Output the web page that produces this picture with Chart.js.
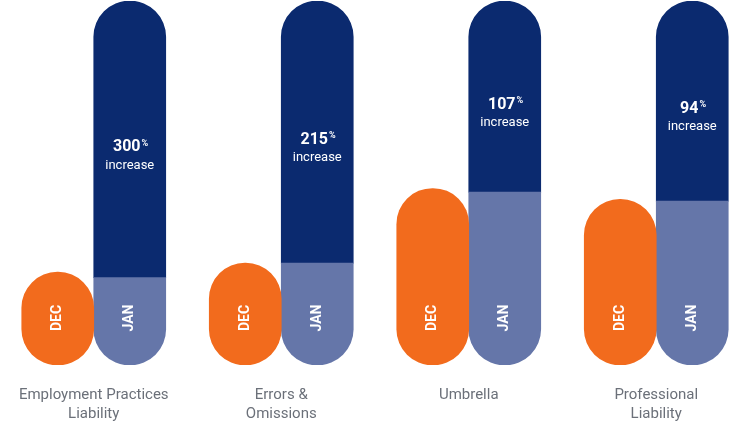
<!DOCTYPE html>
<html><head><meta charset="utf-8">
<script src="https://cdn.jsdelivr.net/npm/chart.js@4"></script>
<style>html,body{margin:0;padding:0;background:#fff}#w{width:750px;height:448px}</style>
</head><body><div id="w"><canvas id="c"></canvas></div>
<script>
const categories = [["Employment Practices","Liability"],["Errors &","Omissions"],["Umbrella"],["Professional","Liability"]];
const decValues = [25.5, 28, 48.5, 45.5];
const janBase = [24, 28, 47.5, 45];
const janTotal = [100, 100, 100, 100];
const increases = ["300", "215", "107", "94"];

const R = 36;
const labelPlugin = {
  id: 'labels',
  afterDatasetsDraw(chart) {
    const ctx = chart.ctx;
    const y = chart.scales.y;
    const m0 = chart.getDatasetMeta(0), m1 = chart.getDatasetMeta(1), m2 = chart.getDatasetMeta(2);
    ctx.save();
    ctx.fillStyle = '#fff';
    ctx.textAlign = 'center'; ctx.textBaseline = 'middle';
    categories.forEach((cat, i) => {
      [[m0.data[i].x, 'DEC'], [m1.data[i].x, 'JAN']].forEach(([x, t]) => {
        ctx.save(); ctx.translate(x, 318); ctx.rotate(-Math.PI/2);
        ctx.font = 'bold 14px Roboto'; ctx.fillText(t, 0, 0); ctx.restore();
      });
      const d = m2.data[i];
      const cy = (d.y + d.base) / 2 + 17;
      ctx.font = 'bold 16px Roboto';
      const w = ctx.measureText(increases[i]).width;
      ctx.textAlign = 'center';
      ctx.fillText(increases[i], d.x - 3, cy - 9);
      ctx.font = 'bold 9px Roboto'; ctx.textAlign = 'left';
      ctx.fillText('%', d.x - 3 + w/2 + 1, cy - 13);
      ctx.textAlign = 'center';
      ctx.font = '13px Roboto';
      ctx.fillText('increase', d.x, cy + 9);
      const cx = (m0.data[i].x + m1.data[i].x) / 2;
      ctx.fillStyle = '#6b7079'; ctx.font = '15px Roboto';
      cat.forEach((l, k) => ctx.fillText(l, cx, 395 + k * 19));
      ctx.fillStyle = '#fff';
    });
    ctx.restore();
  }
};

new Chart(document.getElementById('c'), {
  type: 'bar',
  data: {
    labels: categories.map(c => c.join(' ')),
    datasets: [
      { label: 'DEC', data: decValues, stack: 'a', backgroundColor: '#f26b1d',
        borderRadius: R, borderSkipped: false },
      { label: 'JAN base', data: janBase, stack: 'b', backgroundColor: '#6576a9',
        borderRadius: {topLeft:0, topRight:0, bottomLeft:R, bottomRight:R}, borderSkipped: false },
      { label: 'JAN', data: janTotal.map((v, i) => v - janBase[i]), stack: 'b', backgroundColor: '#0b2a6f',
        borderRadius: {topLeft:R, topRight:R, bottomLeft:0, bottomRight:0}, borderSkipped: false }
    ]
  },
  options: {
    responsive: true, maintainAspectRatio: false, animation: false,
    layout: { padding: { left: 0, right: 0, top: 1, bottom: 83 } },
    datasets: { bar: { barThickness: 72, categoryPercentage: 0.85 } },
    plugins: { legend: { display: false }, tooltip: { enabled: false } },
    scales: {
      x: { stacked: true, display: false },
      y: { stacked: true, display: false, min: 0, max: 100 }
    }
  },
  plugins: [labelPlugin]
});
</script></body></html>
